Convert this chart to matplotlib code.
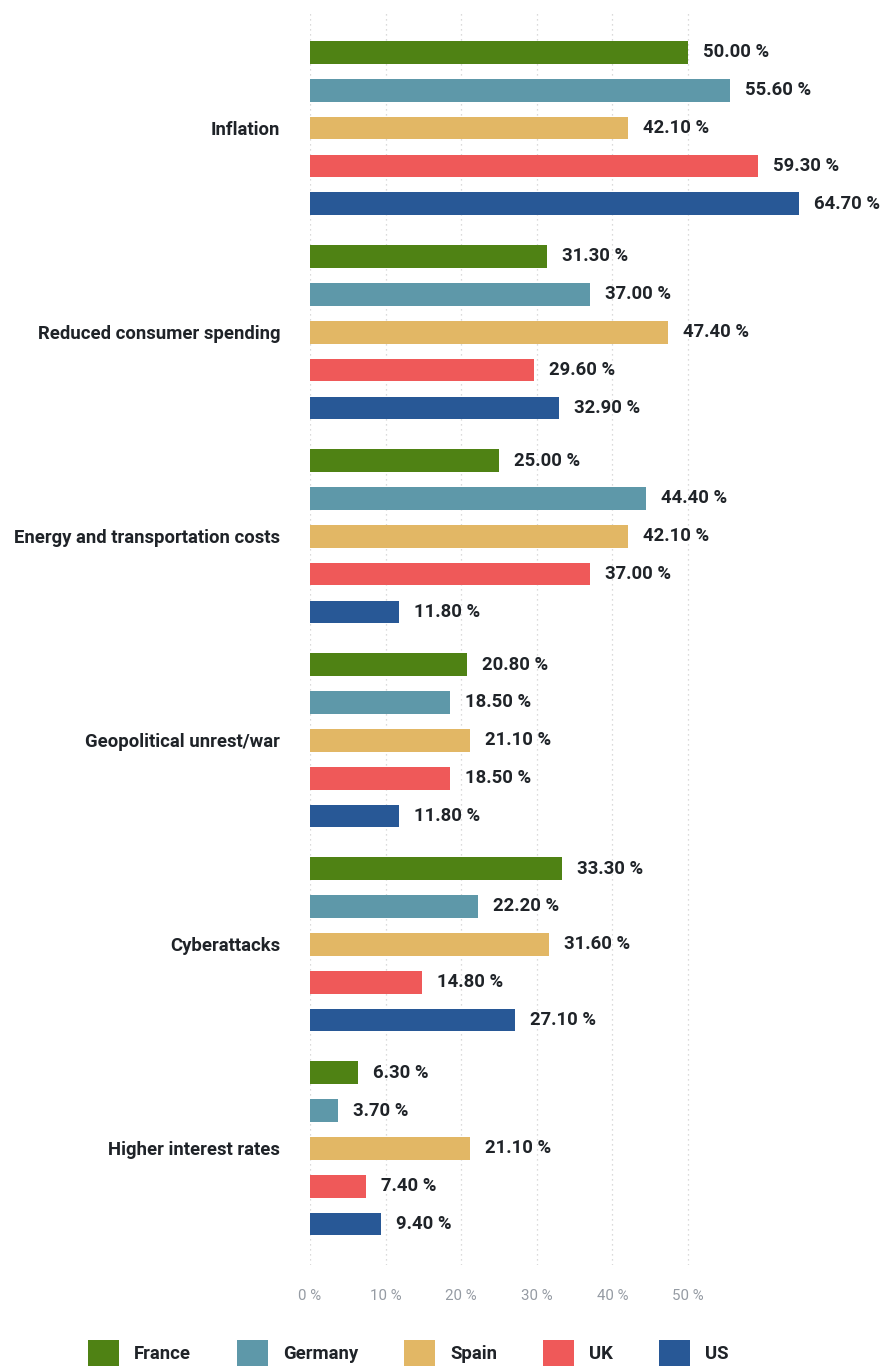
import matplotlib.pyplot as plt
import numpy as np
from matplotlib.patches import Patch

plt.rcParams['font.family'] = ['Roboto', 'DejaVu Sans']

categories = ['Inflation', 'Reduced consumer spending', 'Energy and transportation costs',
              'Geopolitical unrest/war', 'Cyberattacks', 'Higher interest rates']
countries = ['France', 'Germany', 'Spain', 'UK', 'US']
values = {
    'France':  [50.0, 31.3, 25.0, 20.8, 33.3, 6.3],
    'Germany': [55.6, 37.0, 44.4, 18.5, 22.2, 3.7],
    'Spain':   [42.1, 47.4, 42.1, 21.1, 31.6, 21.1],
    'UK':      [59.3, 29.6, 37.0, 18.5, 14.8, 7.4],
    'US':      [64.7, 32.9, 11.8, 11.8, 27.1, 9.4],
}
colors = ['#4f8214', '#5e98a9', '#e2b765', '#ef5959', '#285896']
xticks = [0, 10, 20, 30, 40, 50]

W, H = 885, 1366
fig = plt.figure(figsize=(W / 100, H / 100), dpi=100)
# plot area in pixels: left 310, right 885, top 10, bottom 1265
ax = fig.add_axes([310 / W, 1 - 1265 / H, (W - 310) / W, (1265 - 10) / H])

group_step = 5.39
n = len(countries)
ytop = np.arange(len(categories)) * group_step
text_c = '#1f2328'
fs = 13.3

for i, c in enumerate(countries):
    bars = ax.barh(ytop + i, values[c], height=0.6, color=colors[i], zorder=3)
    ax.bar_label(bars, labels=['%.2f %%' % v for v in values[c]], padding=10.8,
                 fontsize=fs, fontweight='bold', color=text_c)

ax.set_xlim(0, (W - 310) / 75.6 * 10)
ax.set_ylim(ytop[-1] + n - 1 + 1.08, -1.12)

ax.set_yticks(ytop + (n - 1) / 2)
ax.set_yticklabels(categories, fontsize=fs, fontweight='bold', color=text_c)
ax.tick_params(axis='y', length=0, pad=21.6)

ax.set_xticks(xticks)
ax.set_xticklabels(['%d %%' % t for t in xticks], fontsize=10.8, color='#959ba3')
ax.tick_params(axis='x', length=0, pad=17)
ax.grid(axis='x', linestyle=(0, (1, 3)), color='#cfcfcf', linewidth=0.9, zorder=0)
for s in ax.spines.values():
    s.set_visible(False)

handles = [Patch(facecolor=col, label=c) for c, col in zip(countries, colors)]
fig.legend(handles=handles, loc='center left', bbox_to_anchor=(88 / W, 1 - 1353 / H),
           ncol=5, frameon=False, borderpad=0, borderaxespad=0,
           handlelength=1.68, handleheight=1.8, handletextpad=0.81, columnspacing=2.49,
           prop={'size': fs, 'weight': 'bold'}, labelcolor=text_c)

fig.savefig('out.png', dpi=100)
